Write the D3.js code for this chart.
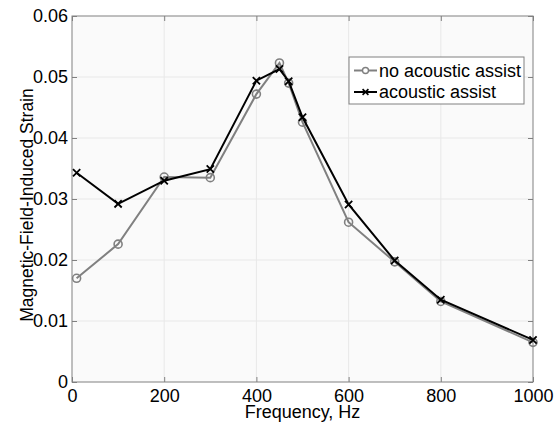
<!DOCTYPE html>
<html>
<head>
<meta charset="utf-8">
<script src="https://cdn.jsdelivr.net/npm/d3@7"></script>
<style>
  body { margin: 0; background: #fff; }
  text { font-family: "Liberation Sans", Arial, sans-serif; fill: #000; }
</style>
</head>
<body>
<div id="chart"></div>
<script>
// frequencies (Hz)
const freq = [10, 100, 200, 300, 400, 450, 470, 500, 600, 700, 800, 1000];
// strain without acoustic assist
const noAssist = [0.0170, 0.0226, 0.0336, 0.0335, 0.0472, 0.0523, 0.0490, 0.0426, 0.0262, 0.0197, 0.0132, 0.0065];
// strain with acoustic assist
const withAssist = [0.0343, 0.0292, 0.0330, 0.0349, 0.0494, 0.0513, 0.0493, 0.0434, 0.0291, 0.0199, 0.0135, 0.0069];
const xTicks = [0, 200, 400, 600, 800, 1000];
const yTicks = [0, 0.01, 0.02, 0.03, 0.04, 0.05, 0.06];
const seriesNames = ["no acoustic assist", "acoustic assist"];

const W = 557, H = 429;
const margin = { top: 16, right: 24, bottom: 47, left: 72 },
      width  = W - margin.left - margin.right,
      height = H - margin.top - margin.bottom;

const svg = d3.select("#chart")
  .append("svg")
  .attr("width", W)
  .attr("height", H);

const g = svg.append("g")
  .attr("transform", `translate(${margin.left},${margin.top})`);

const x = d3.scaleLinear().domain([0, 1000]).range([0, width]);
const y = d3.scaleLinear().domain([0, 0.06]).range([height, 0]);

// plot background
g.append("rect")
  .attr("width", width)
  .attr("height", height)
  .attr("fill", "#fafafa");

// grid
g.selectAll("line.gx")
  .data(xTicks.slice(1, -1))
  .join("line")
  .attr("class", "gx")
  .attr("x1", d => x(d)).attr("x2", d => x(d))
  .attr("y1", 0).attr("y2", height)
  .attr("stroke", "#e8e8e8");

g.selectAll("line.gy")
  .data(yTicks.slice(1, -1))
  .join("line")
  .attr("class", "gy")
  .attr("y1", d => y(d)).attr("y2", d => y(d))
  .attr("x1", 0).attr("x2", width)
  .attr("stroke", "#e8e8e8");

// axes (ticks inside, MATLAB style)
const axisColor = "#808080";
function styleAxis(sel) {
  sel.select(".domain").remove();
  sel.selectAll(".tick line").attr("stroke", axisColor);
  sel.selectAll(".tick text")
    .style("font-size", "18px")
    .style("font-family", '"Liberation Sans", Arial, sans-serif');
}

g.append("g")
  .attr("transform", `translate(0,${height})`)
  .call(d3.axisBottom(x).tickValues(xTicks).tickSize(-5).tickPadding(7).tickFormat(d3.format("d")))
  .call(styleAxis);

g.append("g")
  .call(d3.axisLeft(y).tickValues(yTicks).tickSize(-5).tickPadding(4)
    .tickFormat(d => d === 0 ? "0" : d3.format(".2f")(d)))
  .call(styleAxis);

g.append("g")
  .call(d3.axisTop(x).tickValues(xTicks).tickSize(-5).tickFormat(""))
  .call(styleAxis);

g.append("g")
  .attr("transform", `translate(${width},0)`)
  .call(d3.axisRight(y).tickValues(yTicks).tickSize(-5).tickFormat(""))
  .call(styleAxis);

// box
g.append("rect")
  .attr("width", width)
  .attr("height", height)
  .attr("fill", "none")
  .attr("stroke", axisColor)
  .attr("stroke-width", 1);

// lines
const line = d3.line()
  .x(d => x(d[0]))
  .y(d => y(d[1]));

const dataNo = freq.map((f, i) => [f, noAssist[i]]);
const dataWith = freq.map((f, i) => [f, withAssist[i]]);

g.append("path")
  .datum(dataNo)
  .attr("fill", "none")
  .attr("stroke", "#808080")
  .attr("stroke-width", 2)
  .attr("d", line);

g.selectAll("circle.no")
  .data(dataNo)
  .join("circle")
  .attr("class", "no")
  .attr("cx", d => x(d[0]))
  .attr("cy", d => y(d[1]))
  .attr("r", 4)
  .attr("fill", "none")
  .attr("stroke", "#808080")
  .attr("stroke-width", 1.6);

g.append("path")
  .datum(dataWith)
  .attr("fill", "none")
  .attr("stroke", "#000")
  .attr("stroke-width", 2)
  .attr("d", line);

const cross = d3.symbol().type(d3.symbolX).size(36);
g.selectAll("path.with")
  .data(dataWith)
  .join("path")
  .attr("class", "with")
  .attr("transform", d => `translate(${x(d[0])},${y(d[1])})`)
  .attr("d", cross)
  .attr("fill", "none")
  .attr("stroke", "#000")
  .attr("stroke-width", 1.8);

// legend
const legend = g.append("g")
  .attr("transform", "translate(277,41)");

legend.append("rect")
  .attr("width", 175)
  .attr("height", 47)
  .attr("fill", "#fff")
  .attr("stroke", "#808080");

seriesNames.forEach((name, i) => {
  const ly = 13.5 + i * 21.5;
  const row = legend.append("g").attr("transform", `translate(5,${ly})`);
  row.append("line")
    .attr("x1", 0).attr("x2", 23)
    .attr("stroke", i === 0 ? "#808080" : "#000")
    .attr("stroke-width", 2);
  if (i === 0) {
    row.append("circle")
      .attr("cx", 11.5).attr("r", 3)
      .attr("fill", "#fff").attr("stroke", "#808080").attr("stroke-width", 1.4);
  } else {
    row.append("path")
      .attr("transform", "translate(11.5,0)")
      .attr("d", d3.symbol().type(d3.symbolX).size(24))
      .attr("stroke", "#000").attr("stroke-width", 1.6).attr("fill", "none");
  }
  row.append("text")
    .attr("x", 25)
    .attr("dy", "0.35em")
    .style("font-size", "18px")
    .text(name);
});

// axis labels
svg.append("text")
  .attr("x", margin.left + width / 2)
  .attr("y", 418)
  .attr("text-anchor", "middle")
  .style("font-size", "18px")
  .text("Frequency, Hz");

svg.append("text")
  .attr("transform", `translate(33,${margin.top + height / 2 + 6}) rotate(-90)`)
  .attr("text-anchor", "middle")
  .style("font-size", "17.5px")
  .text("Magnetic-Field-Induced Strain");
</script>
</body>
</html>
